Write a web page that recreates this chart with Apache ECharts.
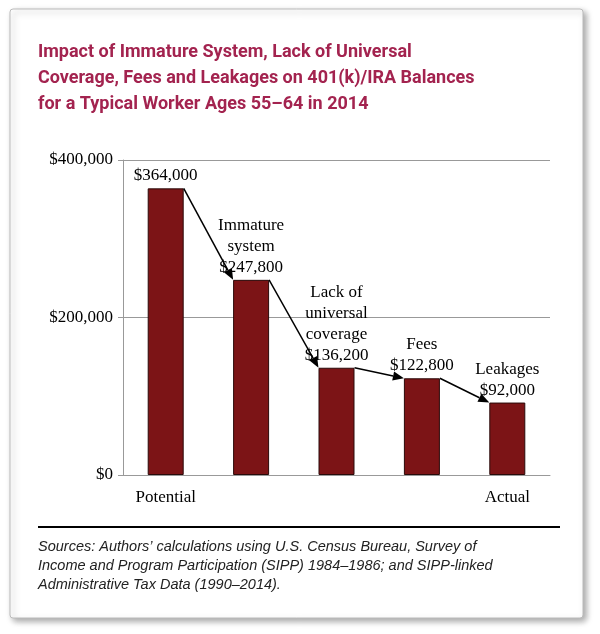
<html><head><meta charset="utf-8"><script src="https://cdn.jsdelivr.net/npm/echarts@6/dist/echarts.min.js"></script>
<style>html,body{margin:0;padding:0;height:100%;background:#fff}#main{width:600px;height:634px}</style></head><body><div id="main"></div><script>
var categories = ['Potential', '', '', '', 'Actual'];
var values = [364000, 247800, 136200, 122800, 92000];
var barLabels = ['$364,000', 'Immature\nsystem\n$247,800', 'Lack of\nuniversal\ncoverage\n$136,200', 'Fees\n$122,800', 'Leakages\n$92,000'];
var yTicks = [0, 200000, 400000];

var myChart = echarts.init(document.getElementById('main'));
var barW = 36;
var arrows = [];
for (var i = 0; i < values.length - 1; i++) arrows.push([i, values[i], values[i + 1]]);

var option = {
    animation: false,
    graphic: [
        { type: 'rect', z: -10, shape: { x: 10, y: 9, width: 573, height: 609, r: 3 },
          style: { fill: '#fff', stroke: '#bbb', lineWidth: 1, shadowBlur: 6, shadowOffsetX: 3, shadowOffsetY: 3, shadowColor: 'rgba(0,0,0,0.35)' } },
        { type: 'text', left: 38, top: 39, style: { text: 'Impact of Immature System, Lack of Universal\nCoverage, Fees and Leakages on 401(k)/IRA Balances\nfor a Typical Worker Ages 55\u201364 in 2014',
          font: 'bold 18px Roboto', fill: '#a3234f', lineHeight: 26 } },
        { type: 'line', shape: { x1: 38, y1: 527, x2: 560, y2: 527 }, style: { stroke: '#000', lineWidth: 2 } },
        { type: 'text', left: 38, top: 537, style: { text: 'Sources: Authors\u2019 calculations using U.S. Census Bureau, Survey of\nIncome and Program Participation (SIPP) 1984\u20131986; and SIPP-linked\nAdministrative Tax Data (1990\u20132014).',
          font: 'italic 14.5px "Liberation Sans"', fill: '#222', lineHeight: 19 } }
    ],
    grid: { left: 123, right: 50, top: 160, bottom: 159 },
    xAxis: { type: 'category', data: categories,
        axisLine: { lineStyle: { color: '#999' } }, axisTick: { show: false },
        axisLabel: { color: '#000', fontFamily: 'Liberation Serif', fontSize: 17, margin: 14 } },
    yAxis: { type: 'value', min: 0, max: 400000, interval: 200000,
        axisLine: { show: true, lineStyle: { color: '#999' } }, axisTick: { show: true, length: 5, lineStyle: { color: '#999' } },
        splitLine: { lineStyle: { color: '#999' } },
        axisLabel: { color: '#000', fontFamily: 'Liberation Serif', fontSize: 17, margin: 10,
            formatter: function (v) { return yTicks.indexOf(v) >= 0 ? '$' + v.toLocaleString('en-US') : ''; } } },
    series: [
        { type: 'bar', data: values, barWidth: barW,
          itemStyle: { color: '#7c1416', borderColor: '#2a0a0a', borderWidth: 1 },
          label: { show: true, position: 'top', distance: 2, color: '#000', fontFamily: 'Liberation Serif', fontSize: 17, lineHeight: 21,
              formatter: function (p) { return barLabels[p.dataIndex]; } } },
        { type: 'custom', data: arrows, z: 10,
          renderItem: function (params, api) {
              var a = api.coord([api.value(0), api.value(1)]);
              var b = api.coord([api.value(0) + 1, api.value(2)]);
              var x1 = a[0] + barW / 2, y1 = a[1], x2 = b[0] - barW / 2, y2 = b[1];
              var ang = Math.atan2(y2 - y1, x2 - x1), L = 11, W = 4.5;
              var bx = x2 - L * Math.cos(ang), by = y2 - L * Math.sin(ang);
              var px = -Math.sin(ang) * W, py = Math.cos(ang) * W;
              return { type: 'group', children: [
                  { type: 'line', shape: { x1: x1, y1: y1, x2: bx, y2: by }, style: { stroke: '#000', lineWidth: 1.5 } },
                  { type: 'polygon', shape: { points: [[x2, y2], [bx + px, by + py], [bx - px, by - py]] }, style: { fill: '#000' } }
              ] };
          } }
    ]
};
myChart.setOption(option);
</script></body></html>
